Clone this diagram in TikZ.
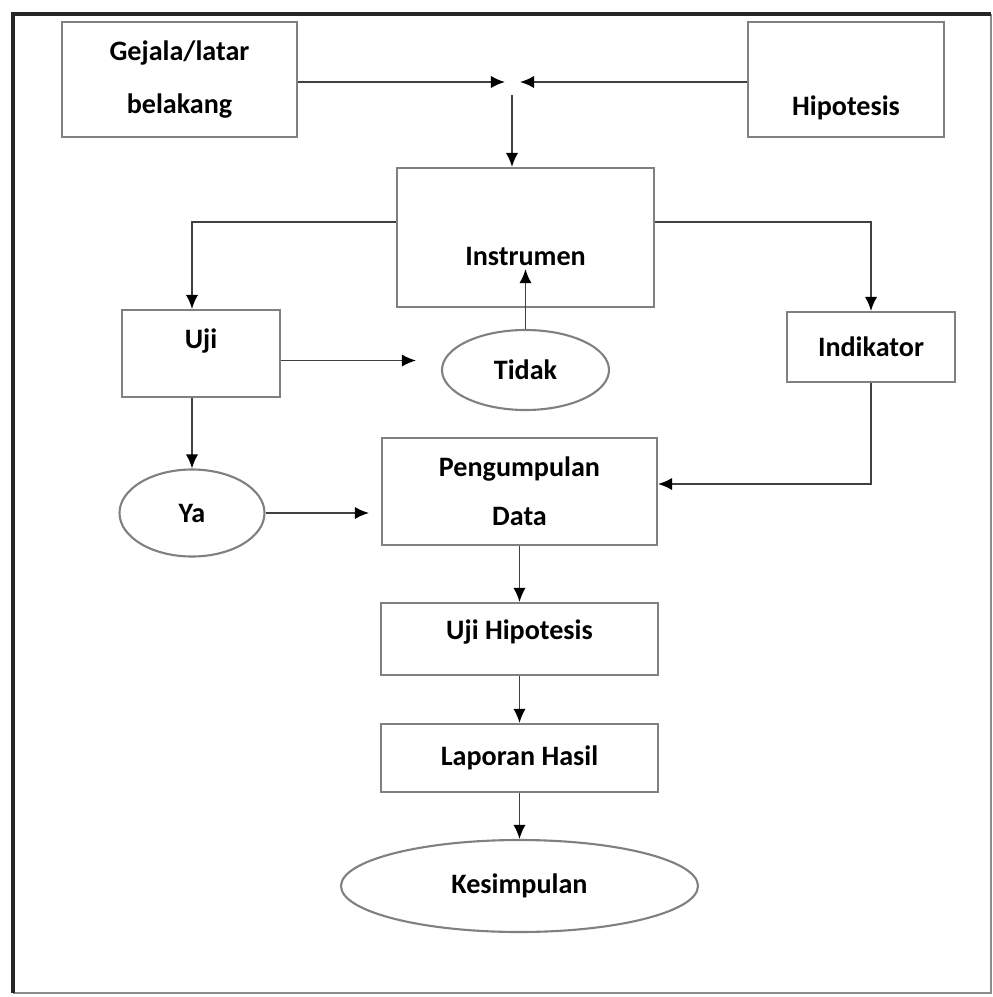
\documentclass[tikz,border=0pt]{standalone}
\usepackage{fontspec}
\setmainfont{Carlito}
\usepackage{tikz}
\usetikzlibrary{positioning,arrows.meta,calc,shapes.geometric}
\tikzset{
    block/.style = {
        draw=black!50,
        shape=rectangle,
        line width=1.2pt,
        inner sep=0pt,
        font=\fontsize{16}{30}\selectfont\bfseries,
        align=center
    },
    decision/.style = {
        draw=black!50,
        shape=ellipse,
        line width=1.2pt,
        inner sep=0pt,
        font=\fontsize{16}{30}\selectfont\bfseries
    },
    txt/.style = {
        shape=rectangle,
        inner sep=2pt,
        font=\fontsize{16}{30}\selectfont\bfseries
    },
    line/.style = {
        draw=black!75,
        line width=1pt
    },
    >={Latex[length=8pt,width=7pt,color=black]},
}
\begin{document}
\begin{tikzpicture}
            \useasboundingbox (0,0) rectangle (19.86,-19.94);
            % frame
            \draw[black!45, line width=1.2pt] (19.82,-0.28) -- (19.82,-19.86) -- (0.26,-19.86);
            \draw[black!85, line width=2.6pt] (19.82,-0.28) -- (0.26,-0.28) -- (0.26,-19.86);

            \node[block, minimum width=4.70cm, minimum height=2.30cm] (gejala) at (3.59,-1.59) {Gejala/latar\\belakang};
            \node[block, minimum width=3.92cm, minimum height=2.30cm] (hipo) at (16.92,-1.59) {};
            \node[txt] (hipotxt) at ($(hipo)+(0,-0.56)$) {Hipotesis};
            \coordinate (meetl) at (10.10,-1.64);
            \coordinate (meetr) at (10.40,-1.64);
            \coordinate (meetd) at (10.24,-1.90);
            \node[block, minimum width=5.14cm, minimum height=2.78cm] (instr) at (10.51,-4.75) {};
            \node[txt] (instrtxt) at ($(instr)+(0,-0.37)$) {Instrumen};
            \node[block, minimum width=3.16cm, minimum height=1.74cm] (uji) at (4.02,-7.07) {};
            \node[txt] (ujitxt) at ($(uji)+(0,0.24)$) {Uji};
            \node[decision, minimum width=3.34cm, minimum height=1.60cm] (tidak) at (10.51,-7.40) {Tidak};
            \node[block, minimum width=3.36cm, minimum height=1.40cm] (indik) at (17.42,-6.94) {Indikator};
            \node[decision, minimum width=2.90cm, minimum height=1.74cm] (ya) at (3.84,-10.26) {Ya};
            \node[block, minimum width=5.50cm, minimum height=2.14cm] (pengump) at (10.39,-9.83) {Pengumpulan\\[-2pt]Data};
            \node[block, minimum width=5.54cm, minimum height=1.44cm] (ujihip) at (10.39,-12.78) {};
            \node[txt] (ujihiptxt) at ($(ujihip)+(0,0.14)$) {Uji Hipotesis};
            \node[block, minimum width=5.54cm, minimum height=1.36cm] (lapor) at (10.39,-15.16) {Laporan Hasil};
            \node[decision, minimum width=7.14cm, minimum height=1.84cm] (kesimp) at (10.39,-17.72) {Kesimpulan};

            \path[line, ->] ($(gejala.east)+(0,-0.05)$) -- (meetl);
            \path[line, ->] ($(hipo.west)+(0,-0.05)$) -- (meetr);
            \path[line, ->] (meetd) -- (meetd |- instr.north);
            \path[line, ->] ($(instr.west)+(0,0.31)$) -| (ya |- uji.north);
            \path[line, ->] ($(instr.east)+(0,0.31)$) -| (indik.north);
            \path[line, ->, shorten >=0.5cm] (uji.-5) -- (uji.-5 -| tidak.west);
            \path[line, ->] (tidak.north) -- (tidak.north |- instrtxt.south);
            \path[line, ->] (ya |- uji.south) -- (ya.north);
            \path[line, ->, shorten >=0.24cm] (ya.east) -- (ya.east -| pengump.west);
            \path[line, ->] (indik.south) |- ($(pengump.east)+(0,0.15)$);
            \path[line, ->] (pengump.south) -- (ujihip.north);
            \path[line, ->] (ujihip.south) -- (lapor.north);
            \path[line, ->] (lapor.south) -- (kesimp.north);
        \end{tikzpicture}
\end{document}
